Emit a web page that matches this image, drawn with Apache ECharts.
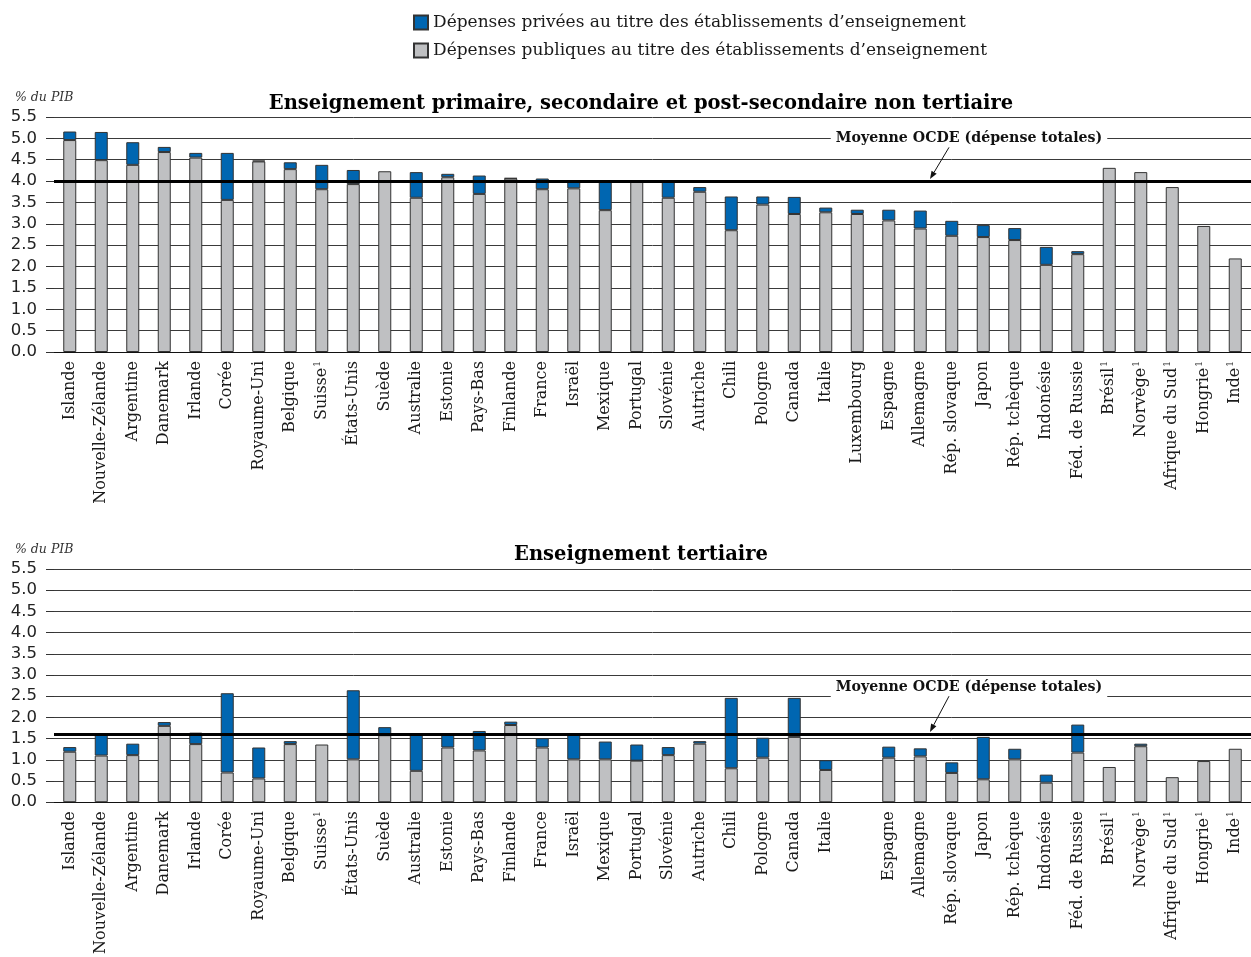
<!DOCTYPE html>
<html><head><meta charset="utf-8">
<script src="https://cdn.jsdelivr.net/npm/echarts@6/dist/echarts.min.js"></script>
<style>html,body{margin:0;padding:0;background:#fff}#c{width:1251px;height:957px}</style>
</head><body><div id="c"></div>
<script>
// ---- DATA ----
const categoriesTop = ['Islande','Nouvelle-Zélande','Argentine','Danemark','Irlande','Corée','Royaume-Uni','Belgique','Suisse¹','États-Unis','Suède','Australie','Estonie','Pays-Bas','Finlande','France','Israël','Mexique','Portugal','Slovénie','Autriche','Chili','Pologne','Canada','Italie','Luxembourg','Espagne','Allemagne','Rép. slovaque','Japon','Rép. tchèque','Indonésie','Féd. de Russie','Brésil¹','Norvège¹','Afrique du Sud¹','Hongrie¹','Inde¹'];
const categoriesBottom = ['Islande','Nouvelle-Zélande','Argentine','Danemark','Irlande','Corée','Royaume-Uni','Belgique','Suisse¹','États-Unis','Suède','Australie','Estonie','Pays-Bas','Finlande','France','Israël','Mexique','Portugal','Slovénie','Autriche','Chili','Pologne','Canada','Italie','','Espagne','Allemagne','Rép. slovaque','Japon','Rép. tchèque','Indonésie','Féd. de Russie','Brésil¹','Norvège¹','Afrique du Sud¹','Hongrie¹','Inde¹'];
const publicTop  = [4.96,4.49,4.38,4.68,4.55,3.56,4.46,4.28,3.81,3.93,4.23,3.61,4.09,3.70,4.06,3.81,3.83,3.32,3.98,3.61,3.75,2.85,3.45,3.23,3.27,3.23,3.08,2.89,2.72,2.69,2.62,2.04,2.29,4.31,4.21,3.86,2.95,2.19];
const privateTop = [0.20,0.66,0.53,0.12,0.11,1.10,0.02,0.16,0.57,0.33,null,0.60,0.08,0.43,0.01,0.25,0.15,0.66,null,0.37,0.11,0.79,0.19,0.40,0.11,0.10,0.25,0.42,0.35,0.28,0.28,0.42,0.07,null,null,null,null,null];
const publicBottom  = [1.19,1.10,1.11,1.80,1.37,0.70,0.56,1.37,1.36,1.01,1.58,0.74,1.29,1.22,1.82,1.29,1.01,1.01,0.98,1.11,1.38,0.80,1.05,1.54,0.76,null,1.05,1.08,0.69,0.54,1.01,0.46,1.17,0.83,1.32,0.59,0.97,1.26];
const privateBottom = [0.11,0.51,0.27,0.09,0.27,1.87,0.73,0.07,null,1.63,0.19,0.87,0.30,0.46,0.08,0.22,0.59,0.42,0.38,0.19,0.06,1.66,0.47,0.92,0.23,null,0.26,0.19,0.25,1.00,0.25,0.19,0.66,null,0.06,null,null,null];
const oecdTop = 4.0;
const oecdBottom = 1.61;
const seriesNames = ['Dépenses privées au titre des établissements d’enseignement','Dépenses publiques au titre des établissements d’enseignement'];
const titles = ['Enseignement primaire, secondaire et post-secondaire non tertiaire','Enseignement tertiaire'];
const unitLabel = '% du PIB';
const oecdLabel = 'Moyenne OCDE (dépense totales)';

// ---- STYLE ----
const BLUE = '#0066b1', GREY = '#bfc0c2', EDGE = '#333';
const SERIF = "'DejaVu Serif', serif";
const SANS = "'DejaVu Sans', sans-serif";

const chart = echarts.init(document.getElementById('c'), null, {renderer:'canvas'});

function fmtCat(v){
  if (v.endsWith('¹')) return v.slice(0,-1) + '{sup|1}';
  return v;
}
function xAx(idx, cats){
  return {type:'category', gridIndex:idx, data:cats,
    axisLine:{show:true, lineStyle:{color:'#111', width:1}},
    axisTick:{show:false},
    axisLabel:{rotate:90, margin:9, color:'#1a1a1a', fontFamily:SERIF, fontSize:16, interval:0,
      formatter:fmtCat, rich:{sup:{fontSize:9, verticalAlign:'top', fontFamily:SERIF, color:'#1a1a1a', padding:[0,0,9,1]}}}
  };
}
function yAx(idx){
  return {type:'value', gridIndex:idx, min:0, max:5.5, interval:0.5,
    axisLine:{show:false},
    axisTick:{show:true, length:8, lineStyle:{color:'#333', width:1}},
    axisLabel:{formatter:v=>v.toFixed(1), color:'#222', fontFamily:SANS, fontSize:16.5, margin:17},
    splitLine:{show:true, lineStyle:{color:'#3a3a3a', width:1}}
  };
}
function barS(name, data, idx, stack, color, ml){
  const s = {name, type:'bar', xAxisIndex:idx, yAxisIndex:idx, stack, data, barWidth:13,
    itemStyle:{color, borderColor:EDGE, borderWidth:1}, emphasis:{disabled:true}, animation:false};
  if (ml != null) s.markLine = {silent:true, symbol:'none', label:{show:false},
      lineStyle:{color:'#000', width:3, type:'solid'}, data:[{yAxis:ml}], z:10};
  return s;
}

chart.setOption({
  animation:false,
  backgroundColor:'#fff',
  legend:{orient:'vertical', left:408, top:9, itemWidth:14, itemHeight:14, itemGap:11,
    icon:'rect', data:seriesNames,
    textStyle:{fontFamily:SERIF, fontSize:17, color:'#1a1a1a'}},
  title:[
    {text:titles[0], left:636, top:89, textAlign:'center', textStyle:{fontFamily:SERIF, fontWeight:'bold', fontSize:19.5, color:'#000'}},
    {text:titles[1], left:636, top:540, textAlign:'center', textStyle:{fontFamily:SERIF, fontWeight:'bold', fontSize:19.5, color:'#000'}},
    {text:unitLabel, left:10, top:86, textStyle:{fontFamily:SERIF, fontStyle:'italic', fontWeight:'normal', fontSize:12.5, color:'#333'}},
    {text:unitLabel, left:10, top:538, textStyle:{fontFamily:SERIF, fontStyle:'italic', fontWeight:'normal', fontSize:12.5, color:'#333'}}
  ],
  grid:[
    {left:54, right:0, top:117, height:235, containLabel:false},
    {left:54, right:0, top:569, height:235, containLabel:false}
  ],
  xAxis:[xAx(0, categoriesTop), xAx(1, categoriesBottom)],
  yAxis:[yAx(0), yAx(1)],
  series:[
    barS(seriesNames[1], publicTop, 0, 'a', GREY, oecdTop),
    barS(seriesNames[0], privateTop, 0, 'a', BLUE),
    barS(seriesNames[1], publicBottom, 1, 'b', GREY, oecdBottom),
    barS(seriesNames[0], privateBottom, 1, 'b', BLUE)
  ]
});

// annotation: label on a grid line + arrow to the OECD line
function annot(gridIdx, labelValue, lineValue, dy){
  const yLab = chart.convertToPixel({yAxisIndex:gridIdx}, labelValue) + dy;
  const yLine = chart.convertToPixel({yAxisIndex:gridIdx}, lineValue);
  const x0 = 949, y0 = yLab + 9, x1 = 930, y1 = yLine - 2;
  const dx = x1-x0, ddy = y1-y0, L = Math.hypot(dx,ddy), ux = dx/L, uy = ddy/L;
  const bx = x1 - ux*8, by = y1 - uy*8, px = -uy, py = ux;
  return [
    {type:'text', z:20, x:969, y:yLab, style:{text:oecdLabel, x:0, y:0, align:'center', verticalAlign:'middle',
      font:"bold 14.2px 'DejaVu Serif', serif", fill:'#111', backgroundColor:'#fff', padding:[3,5]}},
    {type:'line', z:20, shape:{x1:x0, y1:y0, x2:bx, y2:by}, style:{stroke:'#111', lineWidth:1}},
    {type:'polygon', z:20, shape:{points:[[x1,y1],[bx+px*3,by+py*3],[bx-px*3,by-py*3]]}, style:{fill:'#111'}}
  ];
}
chart.setOption({graphic:[].concat(annot(0, 5.0, oecdTop, 0), annot(1, 2.5, oecdBottom, -9))});
</script>
</body></html>
